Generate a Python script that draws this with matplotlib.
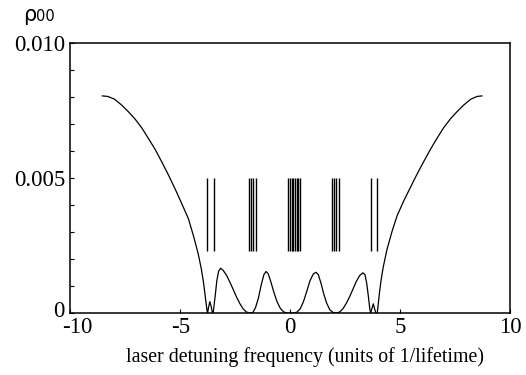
import matplotlib
matplotlib.use("Agg")
import matplotlib.pyplot as plt
from matplotlib.ticker import MultipleLocator
from matplotlib.transforms import ScaledTranslation

# Population curve rho_00 vs detuning
detuning = [-8.55, -8.30, -8.00, -7.67, -7.35, -7.07, -6.76, -6.46, -6.15, -5.85,
            -5.55, -5.25, -4.95, -4.64, -4.40, -4.19, -4.05, -3.95, -3.88, -3.82,
            -3.78, -3.76, -3.72, -3.66, -3.60, -3.54, -3.50, -3.42, -3.34, -3.26,
            -3.17, -3.05, -2.90, -2.75, -2.60, -2.45, -2.30, -2.15, -2.00, -1.85,
            -1.70, -1.58, -1.45, -1.32, -1.20, -1.10, -1.00, -0.88, -0.75, -0.60,
            -0.45, -0.30, -0.15, 0.00, 0.15, 0.30, 0.45, 0.60, 0.75, 0.90,
            1.05, 1.17, 1.28, 1.40, 1.52, 1.65, 1.80, 1.95, 2.10, 2.25,
            2.40, 2.55, 2.70, 2.85, 3.00, 3.15, 3.30, 3.40, 3.48, 3.55,
            3.62, 3.66, 3.72, 3.78, 3.84, 3.90, 3.96, 4.00, 4.06, 4.13,
            4.23, 4.40, 4.64, 4.86, 5.16, 5.47, 5.77, 6.07, 6.38, 6.68,
            6.98, 7.29, 7.57, 7.89, 8.22, 8.50, 8.72]
rho00 = [8.05, 8.03, 7.93, 7.71, 7.45, 7.20, 6.87, 6.48, 6.07, 5.61,
         5.13, 4.62, 4.08, 3.51, 2.85, 2.20, 1.65, 1.15, 0.70, 0.30,
         0.05, 0.00, 0.20, 0.42, 0.25, 0.00, 0.05, 0.60, 1.20, 1.55,
         1.66, 1.58, 1.40, 1.15, 0.88, 0.60, 0.36, 0.16, 0.04, 0.00,
         0.02, 0.20, 0.55, 1.05, 1.42, 1.54, 1.45, 1.15, 0.78, 0.42,
         0.17, 0.04, 0.00, 0.00, 0.00, 0.03, 0.15, 0.42, 0.80, 1.20,
         1.45, 1.51, 1.42, 1.10, 0.72, 0.38, 0.12, 0.02, 0.00, 0.04,
         0.16, 0.36, 0.60, 0.88, 1.16, 1.38, 1.49, 1.42, 1.10, 0.65,
         0.15, 0.00, 0.18, 0.34, 0.15, 0.00, 0.00, 0.30, 0.75, 1.20,
         1.70, 2.35, 3.05, 3.60, 4.15, 4.66, 5.15, 5.61, 6.07, 6.48,
         6.87, 7.20, 7.45, 7.71, 7.93, 8.03, 8.05]
rho00 = [v * 1e-3 for v in rho00]

# Stick spectrum positions
stick_positions = [-3.77, -3.46, -1.89, -1.78, -1.68, -1.57,
                   -0.12, -0.02, 0.08, 0.14, 0.20, 0.29, 0.37, 0.44,
                   1.90, 1.99, 2.06, 2.23, 3.66, 3.96]
stick_low = 0.0023
stick_high = 0.0050

xticks = [-10, -5, 0, 5, 10]
xtick_labels = ["-10", "-5", "0", "5", "10"]
yticks = [0, 0.005, 0.010]
ytick_labels = ["0", "0.005", "0.010"]

fig = plt.figure(figsize=(5.26, 3.75), dpi=100)
ax = fig.add_axes([0.134, 0.1653, 0.8356, 0.7192])

ax.plot(detuning, rho00, color="black", lw=0.9)
ax.vlines(stick_positions, stick_low, stick_high, color="black", lw=1.0)

ax.set_xlim(-10, 10)
ax.set_ylim(0, 0.010)
ax.set_xticks(xticks)
ax.set_xticklabels(xtick_labels)
ax.set_yticks(yticks)
ax.set_yticklabels(ytick_labels)
ax.yaxis.set_minor_locator(MultipleLocator(0.001))

for s in ax.spines.values():
    s.set_linewidth(1.1)

serif = "Liberation Serif"
ax.tick_params(axis="both", which="major", direction="in", length=3, width=0.8,
               labelsize=16.5, top=False, right=False)
ax.tick_params(axis="x", pad=3)
ax.tick_params(axis="y", pad=4)
ax.tick_params(axis="y", which="minor", direction="in", length=3, width=0.8)
ax.tick_params(axis="x", which="minor", bottom=False)
for lab in ax.get_xticklabels() + ax.get_yticklabels():
    lab.set_family(serif)

# small offsets as in the reference (keeps "0" and "-10" apart)
ylab0 = ax.get_yticklabels()[0]
ylab0.set_transform(ylab0.get_transform() + ScaledTranslation(0, 4 / 100, fig.dpi_scale_trans))
xlab0 = ax.get_xticklabels()[0]
xlab0.set_transform(xlab0.get_transform() + ScaledTranslation(7 / 100, 0, fig.dpi_scale_trans))

fig.text(0.58, 0.035, "laser detuning frequency (units of 1/lifetime)", family=serif,
         fontsize=14.3, ha="center", va="baseline")

fig.text(0.044, 0.945, "\u03c1", family="DejaVu Sans", fontsize=15, ha="left", va="baseline")
fig.text(0.068, 0.945, "00", family="DejaVu Sans", fontsize=10.5, ha="left", va="baseline")

fig.savefig("out.png", dpi=100)
